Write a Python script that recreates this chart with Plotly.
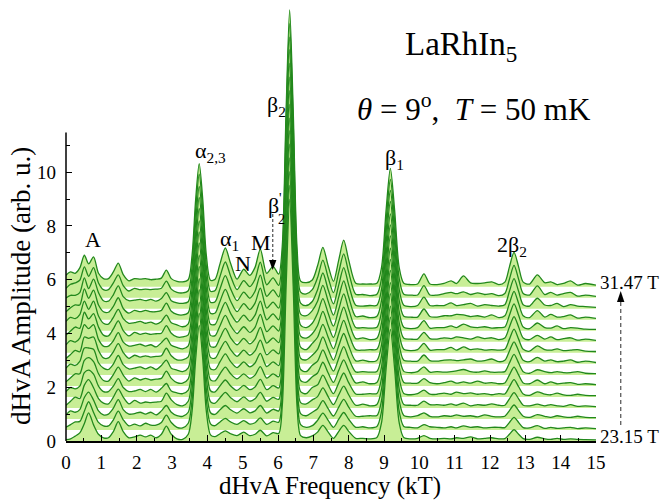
import plotly.graph_objects as go
import numpy as np

# ---------------- data (amplitude above each curve's own baseline) ----------------
freq_kT = [
    0.00, 0.13, 0.26, 0.39, 0.52, 0.64, 0.78, 0.92, 1.06, 1.20, 1.34, 1.48,
    1.62, 1.78, 1.94, 2.10, 2.25, 2.40, 2.55, 2.70, 2.84, 2.98, 3.14, 3.30,
    3.46, 3.57, 3.67, 3.77, 3.87, 3.97, 4.09, 4.22, 4.36, 4.51, 4.66, 4.84,
    5.03, 5.20, 5.35, 5.50, 5.68, 5.86, 6.02, 6.12, 6.23, 6.33, 6.43, 6.54, 6.64,
    6.80, 6.97, 7.12, 7.27, 7.42, 7.57, 7.72, 7.86, 8.00, 8.20, 8.40, 8.60, 8.80,
    8.93, 9.06, 9.18, 9.30, 9.43, 9.56, 9.75, 9.95, 10.13, 10.30, 10.50, 10.70,
    10.90, 11.05, 11.25, 11.45, 11.65, 11.85, 12.05, 12.25, 12.42, 12.55, 12.68, 12.81,
    12.94, 13.12, 13.34, 13.55, 13.72, 13.90, 14.08, 14.28, 14.48, 14.70, 15.00]

spec_01 = [0.05,0.08,0.18,0.30,0.65,1.05,0.60,0.25,0.12,0.12,0.35,0.72,
           0.35,0.12,0.15,0.22,0.15,0.22,0.12,0.25,0.55,0.25,0.08,0.06,
           0.25,1.13,3.05,4.30,3.05,1.13,0.23,0.16,0.27,0.38,0.27,0.20,
           0.33,0.20,0.25,0.40,0.19,0.31,0.28,1.29,5.76,9.00,5.76,1.27,0.20,
           0.12,0.19,0.33,0.58,0.33,0.10,0.36,0.58,0.36,0.10,0.10,0.08,0.13,
           0.68,2.70,4.15,2.70,0.68,0.13,0.08,0.10,0.20,0.10,0.08,0.10,
           0.08,0.12,0.10,0.15,0.08,0.10,0.12,0.08,0.09,0.25,0.42,0.25,
           0.09,0.06,0.14,0.08,0.06,0.10,0.06,0.08,0.06,0.05,0.04]
spec_02 = [0.10,0.20,0.30,0.32,0.70,1.05,0.65,0.28,0.15,0.15,0.38,0.70,
           0.38,0.15,0.22,0.15,0.25,0.18,0.18,0.28,0.55,0.28,0.10,0.08,
           0.25,1.14,3.09,4.35,3.09,1.14,0.23,0.16,0.30,0.43,0.30,0.21,
           0.35,0.22,0.27,0.45,0.21,0.33,0.29,1.30,5.82,9.10,5.82,1.28,0.20,
           0.10,0.16,0.36,0.63,0.36,0.10,0.40,0.65,0.40,0.10,0.12,0.08,0.13,
           0.69,2.73,4.20,2.73,0.69,0.13,0.10,0.08,0.20,0.12,0.10,0.08,
           0.12,0.08,0.15,0.10,0.12,0.08,0.10,0.10,0.09,0.28,0.47,0.28,
           0.09,0.08,0.16,0.06,0.10,0.06,0.08,0.10,0.05,0.08,0.05]
spec_03 = [0.15,0.30,0.25,0.35,0.80,1.00,0.70,0.30,0.15,0.18,0.40,0.72,
           0.35,0.18,0.20,0.25,0.18,0.25,0.15,0.30,0.50,0.25,0.12,0.10,
           0.25,1.14,3.09,4.35,3.09,1.14,0.23,0.17,0.34,0.50,0.34,0.22,
           0.38,0.23,0.30,0.50,0.22,0.36,0.30,1.32,5.89,9.20,5.89,1.29,0.20,
           0.12,0.25,0.38,0.68,0.38,0.11,0.44,0.73,0.44,0.10,0.10,0.12,0.13,
           0.69,2.73,4.20,2.73,0.69,0.13,0.08,0.12,0.23,0.10,0.08,0.12,
           0.10,0.15,0.10,0.12,0.08,0.15,0.10,0.08,0.10,0.31,0.52,0.31,
           0.10,0.06,0.16,0.10,0.06,0.12,0.08,0.06,0.10,0.06,0.05]
spec_04 = [0.10,0.25,0.40,0.35,0.85,1.05,0.75,0.35,0.18,0.15,0.40,0.70,
           0.40,0.15,0.28,0.18,0.22,0.20,0.22,0.25,0.55,0.30,0.12,0.08,
           0.25,1.15,3.12,4.40,3.12,1.15,0.23,0.18,0.38,0.58,0.38,0.23,
           0.41,0.25,0.34,0.58,0.25,0.39,0.32,1.33,5.95,9.30,5.95,1.31,0.20,
           0.15,0.30,0.42,0.75,0.42,0.12,0.49,0.81,0.49,0.10,0.14,0.08,0.13,
           0.70,2.76,4.25,2.76,0.70,0.13,0.10,0.10,0.25,0.12,0.12,0.10,
           0.15,0.10,0.18,0.08,0.12,0.10,0.15,0.10,0.10,0.34,0.57,0.34,
           0.10,0.08,0.14,0.08,0.12,0.08,0.06,0.12,0.06,0.08,0.05]
spec_05 = [0.20,0.35,0.30,0.40,0.90,1.00,0.85,0.40,0.20,0.20,0.40,0.68,
           0.35,0.20,0.22,0.28,0.20,0.28,0.18,0.32,0.50,0.22,0.15,0.12,
           0.25,1.15,3.12,4.40,3.12,1.15,0.23,0.19,0.41,0.63,0.41,0.24,
           0.43,0.27,0.37,0.65,0.27,0.42,0.33,1.35,6.02,9.40,6.02,1.32,0.20,
           0.12,0.35,0.45,0.81,0.45,0.12,0.53,0.89,0.53,0.11,0.10,0.12,0.13,
           0.70,2.76,4.25,2.76,0.70,0.13,0.08,0.12,0.25,0.10,0.10,0.14,
           0.10,0.18,0.12,0.15,0.10,0.12,0.08,0.12,0.11,0.38,0.64,0.38,
           0.11,0.06,0.19,0.10,0.08,0.14,0.08,0.06,0.10,0.06,0.05]
spec_06 = [0.15,0.30,0.45,0.45,0.95,1.05,0.90,0.45,0.20,0.18,0.42,0.70,
           0.40,0.18,0.30,0.22,0.28,0.22,0.25,0.28,0.55,0.28,0.12,0.10,
           0.26,1.16,3.16,4.45,3.16,1.16,0.23,0.19,0.45,0.70,0.45,0.26,
           0.45,0.28,0.40,0.72,0.29,0.45,0.34,1.37,6.08,9.50,6.08,1.33,0.20,
           0.14,0.34,0.48,0.88,0.48,0.13,0.58,0.97,0.58,0.11,0.15,0.08,0.13,
           0.71,2.80,4.30,2.80,0.71,0.13,0.10,0.10,0.27,0.12,0.08,0.12,
           0.18,0.10,0.15,0.10,0.18,0.10,0.12,0.08,0.11,0.41,0.70,0.41,
           0.11,0.08,0.22,0.08,0.15,0.08,0.10,0.12,0.06,0.08,0.05]
spec_07 = [0.25,0.40,0.35,0.50,1.00,1.00,0.95,0.45,0.25,0.20,0.40,0.72,
           0.38,0.22,0.25,0.30,0.22,0.30,0.20,0.35,0.55,0.25,0.18,0.12,
           0.26,1.16,3.16,4.45,3.16,1.16,0.23,0.20,0.49,0.78,0.49,0.27,
           0.48,0.30,0.44,0.80,0.31,0.48,0.35,1.38,6.11,9.55,6.11,1.34,0.20,
           0.12,0.36,0.51,0.93,0.51,0.14,0.62,1.05,0.62,0.11,0.12,0.10,0.13,
           0.71,2.80,4.30,2.80,0.71,0.13,0.08,0.12,0.30,0.10,0.12,0.10,
           0.12,0.15,0.20,0.12,0.10,0.15,0.10,0.10,0.12,0.44,0.76,0.44,
           0.12,0.06,0.19,0.12,0.08,0.12,0.08,0.08,0.12,0.06,0.05]
spec_08 = [0.20,0.35,0.50,0.45,1.00,0.95,1.00,0.50,0.22,0.22,0.45,0.75,
           0.42,0.20,0.32,0.25,0.30,0.25,0.28,0.30,0.58,0.30,0.15,0.15,
           0.26,1.18,3.20,4.50,3.20,1.18,0.24,0.21,0.53,0.84,0.53,0.28,
           0.51,0.32,0.48,0.88,0.34,0.52,0.37,1.39,6.18,9.65,6.18,1.35,0.21,
           0.15,0.32,0.54,1.00,0.54,0.14,0.67,1.13,0.67,0.11,0.14,0.08,0.13,
           0.71,2.80,4.30,2.80,0.71,0.13,0.10,0.10,0.33,0.12,0.10,0.14,
           0.15,0.12,0.15,0.18,0.10,0.12,0.18,0.08,0.13,0.48,0.82,0.48,
           0.13,0.08,0.24,0.10,0.15,0.08,0.10,0.15,0.06,0.10,0.05]
spec_09 = [0.30,0.45,0.40,0.55,1.05,0.90,1.05,0.50,0.25,0.25,0.45,0.75,
           0.40,0.25,0.28,0.32,0.25,0.30,0.22,0.38,0.55,0.28,0.20,0.15,
           0.26,1.18,3.20,4.50,3.20,1.18,0.24,0.22,0.56,0.91,0.56,0.30,
           0.54,0.33,0.51,0.95,0.36,0.56,0.38,1.41,6.24,9.75,6.24,1.37,0.21,
           0.12,0.35,0.58,1.06,0.58,0.15,0.71,1.21,0.71,0.12,0.10,0.12,0.13,
           0.71,2.83,4.35,2.83,0.71,0.13,0.08,0.12,0.35,0.10,0.12,0.12,
           0.20,0.10,0.22,0.12,0.15,0.10,0.12,0.10,0.13,0.51,0.88,0.51,
           0.13,0.06,0.26,0.12,0.10,0.15,0.08,0.10,0.12,0.06,0.05]
spec_10 = [0.25,0.40,0.55,0.50,1.10,0.85,1.05,0.55,0.25,0.22,0.48,0.78,
           0.42,0.22,0.35,0.28,0.32,0.28,0.30,0.32,0.60,0.32,0.18,0.18,
           0.26,1.18,3.20,4.50,3.20,1.18,0.24,0.23,0.60,0.98,0.60,0.31,
           0.56,0.35,0.54,1.02,0.38,0.59,0.40,1.43,6.30,9.85,6.30,1.38,0.21,
           0.14,0.30,0.61,1.13,0.61,0.16,0.76,1.29,0.76,0.12,0.15,0.08,0.13,
           0.71,2.83,4.35,2.83,0.71,0.13,0.10,0.10,0.35,0.12,0.10,0.15,
           0.12,0.18,0.15,0.10,0.18,0.12,0.15,0.08,0.14,0.55,0.94,0.55,
           0.14,0.08,0.24,0.10,0.18,0.08,0.12,0.15,0.06,0.10,0.05]
spec_11 = [0.35,0.50,0.45,0.60,1.10,0.80,1.10,0.55,0.28,0.25,0.50,0.80,
           0.45,0.28,0.30,0.35,0.28,0.32,0.25,0.35,0.58,0.30,0.22,0.15,
           0.26,1.19,3.23,4.55,3.23,1.19,0.24,0.24,0.65,1.06,0.65,0.32,
           0.58,0.36,0.58,1.10,0.41,0.63,0.41,1.44,6.37,9.95,6.37,1.39,0.21,
           0.12,0.28,0.65,1.20,0.65,0.17,0.80,1.37,0.80,0.12,0.12,0.10,0.13,
           0.71,2.83,4.35,2.83,0.71,0.13,0.08,0.12,0.38,0.10,0.12,0.12,
           0.18,0.12,0.25,0.15,0.12,0.15,0.10,0.12,0.14,0.58,1.00,0.58,
           0.14,0.08,0.29,0.12,0.10,0.18,0.08,0.12,0.10,0.06,0.05]
spec_12 = [0.30,0.45,0.55,0.55,1.15,0.80,1.10,0.55,0.30,0.28,0.50,0.82,
           0.42,0.25,0.35,0.30,0.35,0.30,0.30,0.35,0.62,0.32,0.20,0.18,
           0.26,1.19,3.23,4.55,3.23,1.19,0.24,0.25,0.69,1.13,0.69,0.30,
           0.60,0.38,0.62,1.18,0.43,0.66,0.43,1.46,6.43,10.05,6.43,1.41,0.21,
           0.15,0.34,0.69,1.28,0.69,0.17,0.85,1.45,0.85,0.12,0.14,0.08,0.13,
           0.72,2.86,4.40,2.86,0.72,0.13,0.10,0.10,0.40,0.12,0.10,0.15,
           0.15,0.20,0.18,0.12,0.15,0.10,0.18,0.08,0.15,0.61,1.06,0.61,
           0.15,0.08,0.34,0.10,0.20,0.10,0.12,0.18,0.06,0.10,0.05]
spec_13 = [0.40,0.50,0.50,0.60,1.15,0.75,1.10,0.60,0.30,0.28,0.52,0.85,
           0.45,0.30,0.32,0.35,0.30,0.35,0.28,0.38,0.60,0.30,0.22,0.20,
           0.26,1.19,3.23,4.55,3.23,1.19,0.24,0.26,0.74,1.23,0.74,0.30,
           0.62,0.39,0.65,1.25,0.46,0.70,0.44,1.47,6.46,10.10,6.46,1.41,0.21,
           0.12,0.27,0.71,1.33,0.71,0.18,0.89,1.53,0.89,0.13,0.10,0.12,0.13,
           0.72,2.86,4.40,2.86,0.72,0.13,0.08,0.12,0.43,0.12,0.12,0.12,
           0.22,0.12,0.15,0.20,0.10,0.15,0.12,0.10,0.15,0.65,1.12,0.65,
           0.15,0.10,0.39,0.14,0.12,0.20,0.08,0.15,0.10,0.08,0.05]
spec_14 = [0.35,0.50,0.55,0.65,1.15,0.80,1.12,0.55,0.30,0.30,0.55,0.85,
           0.45,0.25,0.35,0.30,0.32,0.30,0.32,0.35,0.62,0.32,0.20,0.18,
           0.26,1.20,3.27,4.60,3.27,1.20,0.24,0.27,0.80,1.33,0.80,0.30,
           0.64,0.41,0.69,1.32,0.48,0.74,0.46,1.49,6.53,10.20,6.53,1.43,0.21,
           0.14,0.30,0.75,1.40,0.75,0.19,0.95,1.63,0.95,0.13,0.12,0.08,0.13,
           0.72,2.86,4.40,2.86,0.72,0.13,0.10,0.10,0.45,0.10,0.10,0.15,
           0.20,0.15,0.22,0.12,0.18,0.12,0.15,0.08,0.16,0.69,1.20,0.69,
           0.16,0.10,0.44,0.12,0.20,0.10,0.15,0.20,0.06,0.10,0.05]
spec_15 = [0.43,0.55,0.50,0.70,1.17,0.85,1.11,0.50,0.30,0.30,0.55,0.88,
           0.45,0.22,0.30,0.28,0.30,0.26,0.28,0.32,0.62,0.30,0.20,0.18,
           0.26,1.20,3.25,4.58,3.25,1.20,0.24,0.28,0.86,1.44,0.86,0.28,
           0.65,0.42,0.72,1.40,0.50,0.76,0.47,1.50,6.59,10.30,6.59,1.44,0.21,
           0.15,0.25,0.78,1.46,0.78,0.20,1.00,1.73,1.00,0.13,0.10,0.10,0.13,
           0.72,2.86,4.40,2.86,0.72,0.13,0.08,0.10,0.48,0.10,0.08,0.12,
           0.22,0.12,0.40,0.14,0.12,0.14,0.18,0.08,0.17,0.74,1.28,0.74,
           0.17,0.10,0.44,0.15,0.18,0.08,0.12,0.22,0.06,0.12,0.06]

spectra = [spec_01, spec_02, spec_03, spec_04, spec_05, spec_06, spec_07, spec_08,
           spec_09, spec_10, spec_11, spec_12, spec_13, spec_14, spec_15]
offset_step = 0.41
field_low_label = "23.15 T"
field_high_label = "31.47 T"
y_tick_vals = [0, 2, 4, 6, 8, 10]
y_minor_vals = [1, 3, 5, 7, 9, 11]
y_axis_top = 11.48

# ---------------- style / geometry ----------------
W, H = 662, 501
ML, MR, MT, MB = 66, 66, 0, 60
PW, PH = W - ML - MR, H - MT - MB
PX_PER_UNIT = 26.88
Y_TOP = PH / PX_PER_UNIT

LINE = '#22881c'
FILL = 'rgb(200,238,150)'
FONT = 'Liberation Serif, Times New Roman, serif'


def px(xp):
    return (xp - ML) / PW


def py(yp):
    return (H - MB - yp) / PH


fig = go.Figure()
n = len(freq_kT)
for i in reversed(range(len(spectra))):
    off = i * offset_step
    fig.add_trace(go.Scatter(x=freq_kT, y=np.full(n, off), mode='lines',
                             line=dict(width=0, color=LINE), hoverinfo='skip',
                             showlegend=False))
    fig.add_trace(go.Scatter(x=freq_kT, y=np.array(spectra[i]) + off, mode='lines',
                             fill='tonexty', fillcolor=FILL,
                             line=dict(color=LINE, width=1.3, shape='spline', smoothing=0.8),
                             showlegend=False))

annotations = []


def ann(text, x, y, size, xanchor='center', yanchor='middle', angle=0, pad=1):
    annotations.append(dict(text=text, x=px(x), y=py(y), xref='paper', yref='paper',
                            xanchor=xanchor, yanchor=yanchor, showarrow=False,
                            textangle=angle, borderpad=pad,
                            font=dict(family=FONT, size=size, color='black')))


ann("LaRhIn<sub>5</sub>", 403, 46, 33, xanchor='left')
ann("<i>θ</i> = 9<sup>o</sup>,  <i>T</i> = 50 mK", 355, 107, 31, xanchor='left')
ann("A", 92.5, 239, 22)
ann("α<sub>2,3</sub>", 193, 152, 22, xanchor='left')
ann("α<sub>1</sub>", 218, 240, 22, xanchor='left')
ann("N", 242.5, 263, 22)
ann("M", 261, 242.5, 22)
ann("β", 266, 205, 22, xanchor='left')
ann("'", 277, 198, 14, xanchor='left')
ann("2", 276, 219, 14, xanchor='left')
ann("β<sub>2</sub>", 265, 106, 22, xanchor='left')
ann("β<sub>1</sub>", 383, 159, 22, xanchor='left')
ann("2β<sub>2</sub>", 495, 246, 22, xanchor='left')
ann(field_high_label, 598, 282.5, 19, xanchor='left')
ann(field_low_label, 598, 436.5, 19, xanchor='left')
ann("dHvA Frequency (kT)", 330, 501, 25, yanchor='bottom', pad=0)
ann("dHvA Amplitude (arb. u.)", 21, 286, 27, angle=-90)

shapes = [
    # y axis line (stops at the top of the scale)
    dict(type='line', xref='paper', yref='paper', x0=0, x1=0, y0=0,
         y1=y_axis_top / Y_TOP, line=dict(color='black', width=1.5)),
    # dashed arrow for beta'_2
    dict(type='line', xref='paper', yref='paper', x0=px(272.7), x1=px(272.7),
         y0=py(214), y1=py(262), line=dict(color='#666666', width=1.4, dash='3px,2px')),
    dict(type='path', xref='paper', yref='paper',
         path=f"M {px(269)},{py(260)} L {px(276.4)},{py(260)} L {px(272.7)},{py(270)} Z",
         fillcolor='black', line=dict(width=0)),
    # field arrow on the right
    dict(type='line', xref='paper', yref='paper', x0=px(620.7), x1=px(620.7),
         y0=py(425), y1=py(300), line=dict(color='#666666', width=1.4, dash='4px,3px')),
    dict(type='path', xref='paper', yref='paper',
         path=f"M {px(617)},{py(302)} L {px(624.4)},{py(302)} L {px(620.7)},{py(291)} Z",
         fillcolor='black', line=dict(width=0)),
]

fig.update_layout(
    width=W, height=H,
    margin=dict(l=ML, r=MR, t=MT, b=MB, pad=0),
    paper_bgcolor='white', plot_bgcolor='white',
    showlegend=False,
    annotations=annotations,
    shapes=shapes,
    xaxis=dict(range=[0, 15], showgrid=False, zeroline=False,
               showline=True, linecolor='black', linewidth=1.5,
               ticks='inside', ticklen=6, tickwidth=1.3, tickcolor='black',
               tickmode='linear', tick0=0, dtick=1,
               minor=dict(ticks='inside', ticklen=3.5, tickwidth=1.2, tickcolor='black', dtick=0.5),
               tickfont=dict(family=FONT, size=19, color='black'),
               ticklabelstandoff=3),
    yaxis=dict(range=[0, Y_TOP], showgrid=False, zeroline=False, showline=False,
               ticks='inside', ticklen=6, tickwidth=1.3, tickcolor='black',
               tickmode='array', tickvals=y_tick_vals,
               ticktext=[str(v) for v in y_tick_vals],
               minor=dict(ticks='inside', ticklen=3.5, tickwidth=1.2, tickcolor='black',
                          tickmode='array', tickvals=y_minor_vals),
               tickfont=dict(family=FONT, size=19, color='black'),
               ticklabelstandoff=9),
)

fig.write_html("out.html")
